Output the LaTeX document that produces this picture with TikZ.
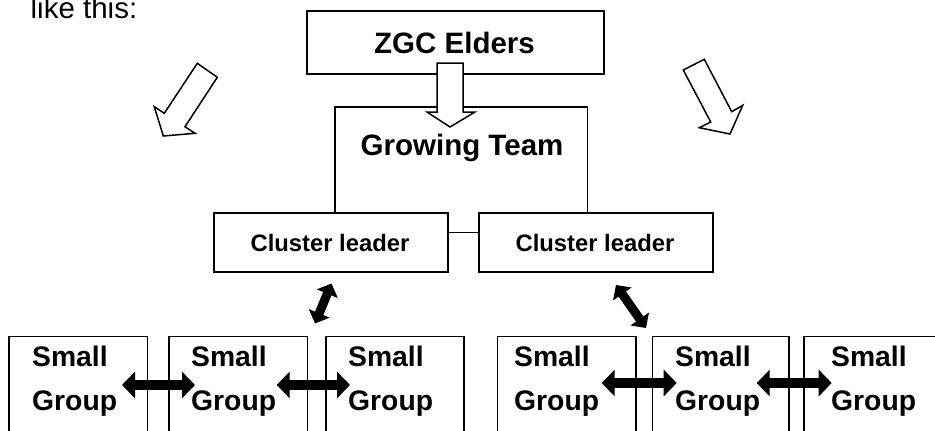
\documentclass[tikz,border=0pt]{standalone}
\usepackage{fontspec}
\setmainfont{Liberation Sans}
\usetikzlibrary{arrows.meta}
\begin{document}
\begin{tikzpicture}[x=1pt,y=-1pt,
  box/.style={draw, line width=1.7pt, inner sep=0pt, anchor=north west, fill=none},
  bigtxt/.style={font=\bfseries\fontsize{29.5}{34}\selectfont, anchor=base, inner sep=0pt},
  cltxt/.style={font=\bfseries\fontsize{23.8}{28}\selectfont, anchor=base, inner sep=0pt},
  sgtxt/.style={font=\bfseries\fontsize{28.3}{34}\selectfont, anchor=base west, inner sep=0pt},
  hollow/.style={draw, fill=white, line width=1.5pt, line join=miter},
  dblh/.style={line width=10pt, {Triangle[length=13pt,width=26pt]}-{Triangle[length=13pt,width=26pt]}},
  dbld/.style={line width=9pt, {Triangle[length=11pt,width=22pt]}-{Triangle[length=11pt,width=22pt]}}
]
\useasboundingbox (0,0) rectangle (935,431);
\clip (0,0) rectangle (935,431);

% intro text
\node[anchor=base west, inner sep=0pt, font=\fontsize{29.5}{34}\selectfont] (intro) at (30.5,18) {like this:};

% Growing team (open box) and cluster leaders
\node[inner sep=0pt, minimum width=252pt, minimum height=105pt, anchor=north west] (gt) at (335,107) {};
\draw[line width=1.7pt, line join=miter] (gt.south west) |- (gt.north east) -- (gt.south east);
\node[bigtxt] (gtt) at (462,155) {Growing Team};

\node[box, minimum width=234pt, minimum height=59pt] (cl1) at (213,212) {};
\node[box, minimum width=234pt, minimum height=59pt] (cl2) at (478,212) {};
\node[cltxt] (cl1t) at (330,251) {Cluster leader};
\node[cltxt] (cl2t) at (595,251) {Cluster leader};
\draw[line width=1.7pt] ([yshift=9.8pt]cl1.east) -- ([yshift=9.8pt]cl2.west);

% ZGC Elders
\node[box, minimum width=297pt, minimum height=63pt] (zgc) at (306,10) {};
\node[bigtxt] (zgct) at (454.5,53) {ZGC Elders};

% hollow block arrows
\draw[hollow] (437,63) -- (463,63) -- (463,112) -- (475,112) -- (450,127) -- (427,112) -- (437,112) -- cycle;
\draw[hollow] (197.3,63.3) -- (217.3,77.3) -- (185,126.7) -- (195,133.3) -- (163.3,136) -- (154.3,106.7) -- (164.3,113.3) -- cycle;
\draw[hollow] (683.3,70) -- (704.3,59.3) -- (731.7,111.7) -- (742.7,105.3) -- (730,134) -- (699.3,127.7) -- (710.7,122) -- cycle;

% small groups
\foreach \i/\x/\w in {1/8.3/138.4, 2/168.3/138.4, 3/325/138.3, 4/496.7/138.3, 5/651.7/136.6, 6/803.3/140} {
  \node[box, minimum width=\w pt, minimum height=110pt] (g\i) at (\x,335.7) {};
}
\foreach \i/\x in {1/32, 2/191, 3/348, 4/514, 5/675, 6/831} {
  \node[sgtxt] (s\i) at (\x,366.5) {Small};
  \node[sgtxt] (p\i) at (\x,410) {Group};
}

% double arrows
\coordinate (h1a) at (122,385);   \coordinate (h1b) at (195,385);
\coordinate (h2a) at (276.7,385); \coordinate (h2b) at (350,385);
\coordinate (h3a) at (601.7,383); \coordinate (h3b) at (676.7,383);
\coordinate (h4a) at (756.7,383); \coordinate (h4b) at (831.7,383);
\draw[dblh] (h1a) -- (h1b);
\draw[dblh] (h2a) -- (h2b);
\draw[dblh] (h3a) -- (h3b);
\draw[dblh] (h4a) -- (h4b);

\coordinate (d1a) at (331.5,283.5); \coordinate (d1b) at (315,323.5);
\coordinate (d2a) at (616,285);     \coordinate (d2b) at (646,328);
\draw[dbld] (d1a) -- (d1b);
\draw[dbld] (d2a) -- (d2b);
\end{tikzpicture}
\end{document}
